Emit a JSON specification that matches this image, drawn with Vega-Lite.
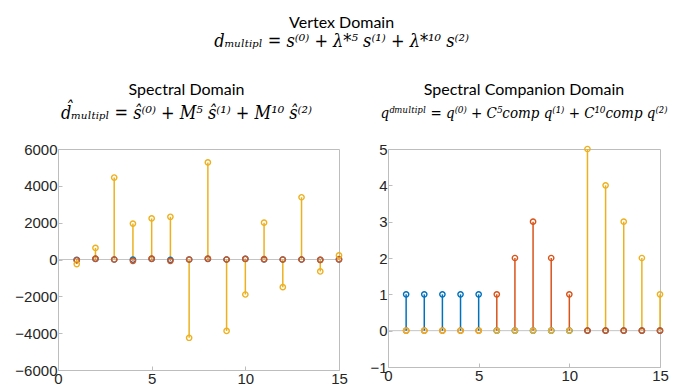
{
  "$schema": "https://vega.github.io/schema/vega-lite/v6.json",
  "padding": {"left": 14, "top": 14, "right": 5, "bottom": 0},
  "background": "white",
  "title": {
    "text": "Vertex Domain",
    "subtitle": "dₘᵤₗₜᵢₚₗ = s⁽⁰⁾ + λ*⁵ s⁽¹⁾ + λ*¹⁰ s⁽²⁾",
    "anchor": "middle",
    "font": "Lato",
    "fontSize": 16,
    "fontWeight": "normal",
    "color": "black",
    "subtitleFont": "DejaVu Serif Condensed, DejaVu Serif",
    "subtitleFontSize": 18,
    "subtitleFontStyle": "italic",
    "subtitleColor": "black",
    "subtitlePadding": 2,
    "offset": 31
  },
  "spacing": 21,
  "hconcat": [
    {
      "width": 281,
      "height": 221,
      "title": {
        "text": "Spectral Domain",
        "subtitle": "d̂ₘᵤₗₜᵢₚₗ = ŝ⁽⁰⁾ + M⁵ ŝ⁽¹⁾ + M¹⁰ ŝ⁽²⁾",
        "anchor": "middle",
        "dx": -12,
        "font": "Lato",
        "fontSize": 16,
        "fontWeight": "normal",
        "color": "black",
        "subtitleFont": "DejaVu Serif Condensed, DejaVu Serif",
        "subtitleFontSize": 18,
        "subtitleFontStyle": "italic",
        "subtitleColor": "black",
        "subtitlePadding": 7,
        "offset": 19
      },
      "data": {
        "values": [
          {"x": 1, "s": "s0", "v": -20}, {"x": 2, "s": "s0", "v": 30}, {"x": 3, "s": "s0", "v": 0},
          {"x": 4, "s": "s0", "v": -10}, {"x": 5, "s": "s0", "v": 30}, {"x": 6, "s": "s0", "v": -20},
          {"x": 7, "s": "s0", "v": 0}, {"x": 8, "s": "s0", "v": 30}, {"x": 9, "s": "s0", "v": 0},
          {"x": 10, "s": "s0", "v": 30}, {"x": 11, "s": "s0", "v": 0}, {"x": 12, "s": "s0", "v": 0},
          {"x": 13, "s": "s0", "v": 0}, {"x": 14, "s": "s0", "v": -20}, {"x": 15, "s": "s0", "v": 0},
          {"x": 1, "s": "s1", "v": -40}, {"x": 2, "s": "s1", "v": 50}, {"x": 3, "s": "s1", "v": 0},
          {"x": 4, "s": "s1", "v": -70}, {"x": 5, "s": "s1", "v": 50}, {"x": 6, "s": "s1", "v": -70},
          {"x": 7, "s": "s1", "v": 0}, {"x": 8, "s": "s1", "v": 50}, {"x": 9, "s": "s1", "v": 0},
          {"x": 10, "s": "s1", "v": 40}, {"x": 11, "s": "s1", "v": 20}, {"x": 12, "s": "s1", "v": 0},
          {"x": 13, "s": "s1", "v": 0}, {"x": 14, "s": "s1", "v": -20}, {"x": 15, "s": "s1", "v": 10},
          {"x": 1, "s": "s2", "v": -250}, {"x": 2, "s": "s2", "v": 630}, {"x": 3, "s": "s2", "v": 4450},
          {"x": 4, "s": "s2", "v": 1950}, {"x": 5, "s": "s2", "v": 2230}, {"x": 6, "s": "s2", "v": 2320},
          {"x": 7, "s": "s2", "v": -4250}, {"x": 8, "s": "s2", "v": 5270}, {"x": 9, "s": "s2", "v": -3880},
          {"x": 10, "s": "s2", "v": -1900}, {"x": 11, "s": "s2", "v": 2000}, {"x": 12, "s": "s2", "v": -1500},
          {"x": 13, "s": "s2", "v": 3380}, {"x": 14, "s": "s2", "v": -650}, {"x": 15, "s": "s2", "v": 220}
        ]
      },
      "layer": [
        {
          "data": {"values": [{"b": 0}]},
          "mark": {"type": "rule", "color": "#c4c4c4", "strokeWidth": 1},
          "encoding": {
            "y": {"field": "b", "type": "quantitative", "title": null, "scale": {"domain": [-6000, 6000], "nice": false},
                  "axis": {"values": [-6000, -4000, -2000, 0, 2000, 4000, 6000], "format": "d", "labelFontSize": 15, "labelFont": "Liberation Sans", "labelOverlap": false, "labelFlush": false, "labelPadding": 5}}
          }
        },
        {
          "mark": {"type": "rule", "strokeWidth": 1.5},
          "encoding": {
            "x": {"field": "x", "type": "quantitative", "title": null, "scale": {"domain": [0, 15], "nice": false},
                  "axis": {"values": [0, 5, 10, 15], "format": "d", "labelFontSize": 15, "labelFont": "Liberation Sans", "labelOverlap": false, "labelFlush": false, "labelPadding": 5}},
            "y": {"field": "v", "type": "quantitative", "title": null, "scale": {"domain": [-6000, 6000], "nice": false},
                  "axis": {"values": [-6000, -4000, -2000, 0, 2000, 4000, 6000], "format": "d", "labelFontSize": 15, "labelFont": "Liberation Sans", "labelOverlap": false, "labelFlush": false, "labelPadding": 5}},
            "y2": {"datum": 0},
            "color": {"field": "s", "type": "nominal", "legend": null, "scale": {"domain": ["s0", "s1", "s2"], "range": ["#0072BD", "#D95319", "#EDB120"]}}
          }
        },
        {
          "mark": {"type": "point", "filled": false, "shape": "circle", "size": 28, "strokeWidth": 1.4, "opacity": 1},
          "encoding": {
            "x": {"field": "x", "type": "quantitative", "title": null, "scale": {"domain": [0, 15], "nice": false},
                  "axis": {"values": [0, 5, 10, 15], "format": "d", "labelFontSize": 15, "labelFont": "Liberation Sans", "labelOverlap": false, "labelFlush": false, "labelPadding": 5}},
            "y": {"field": "v", "type": "quantitative", "title": null, "scale": {"domain": [-6000, 6000], "nice": false},
                  "axis": {"values": [-6000, -4000, -2000, 0, 2000, 4000, 6000], "format": "d", "labelFontSize": 15, "labelFont": "Liberation Sans", "labelOverlap": false, "labelFlush": false, "labelPadding": 5}},
            "color": {"field": "s", "type": "nominal", "legend": null}
          }
        }
      ]
    },
    {
      "width": 272,
      "height": 218,
      "title": {
        "text": "Spectral Companion Domain",
        "subtitle": "qᵈᵐᵘˡᵗⁱᵖˡ = q⁽⁰⁾ + C⁵comp q⁽¹⁾ + C¹⁰comp q⁽²⁾",
        "anchor": "middle",
        "font": "Lato",
        "fontSize": 16,
        "fontWeight": "normal",
        "color": "black",
        "subtitleFont": "DejaVu Serif Condensed, DejaVu Serif",
        "subtitleFontSize": 15,
        "subtitleFontStyle": "italic",
        "subtitleColor": "black",
        "subtitlePadding": 8,
        "offset": 21
      },
      "data": {
        "values": [
          {"x": 1, "s": "s0", "v": 1}, {"x": 2, "s": "s0", "v": 1}, {"x": 3, "s": "s0", "v": 1},
          {"x": 4, "s": "s0", "v": 1}, {"x": 5, "s": "s0", "v": 1}, {"x": 6, "s": "s0", "v": 0},
          {"x": 7, "s": "s0", "v": 0}, {"x": 8, "s": "s0", "v": 0}, {"x": 9, "s": "s0", "v": 0},
          {"x": 10, "s": "s0", "v": 0}, {"x": 11, "s": "s0", "v": 0}, {"x": 12, "s": "s0", "v": 0},
          {"x": 13, "s": "s0", "v": 0}, {"x": 14, "s": "s0", "v": 0}, {"x": 15, "s": "s0", "v": 0},
          {"x": 1, "s": "s1", "v": 0}, {"x": 2, "s": "s1", "v": 0}, {"x": 3, "s": "s1", "v": 0},
          {"x": 4, "s": "s1", "v": 0}, {"x": 5, "s": "s1", "v": 0}, {"x": 6, "s": "s1", "v": 1},
          {"x": 7, "s": "s1", "v": 2}, {"x": 8, "s": "s1", "v": 3}, {"x": 9, "s": "s1", "v": 2},
          {"x": 10, "s": "s1", "v": 1}, {"x": 11, "s": "s1", "v": 0}, {"x": 12, "s": "s1", "v": 0},
          {"x": 13, "s": "s1", "v": 0}, {"x": 14, "s": "s1", "v": 0}, {"x": 15, "s": "s1", "v": 0},
          {"x": 1, "s": "s2", "v": 0}, {"x": 2, "s": "s2", "v": 0}, {"x": 3, "s": "s2", "v": 0},
          {"x": 4, "s": "s2", "v": 0}, {"x": 5, "s": "s2", "v": 0}, {"x": 6, "s": "s2", "v": 0},
          {"x": 7, "s": "s2", "v": 0}, {"x": 8, "s": "s2", "v": 0}, {"x": 9, "s": "s2", "v": 0},
          {"x": 10, "s": "s2", "v": 0}, {"x": 11, "s": "s2", "v": 5}, {"x": 12, "s": "s2", "v": 4},
          {"x": 13, "s": "s2", "v": 3}, {"x": 14, "s": "s2", "v": 2}, {"x": 15, "s": "s2", "v": 1}
        ]
      },
      "layer": [
        {
          "data": {"values": [{"b": 0}]},
          "mark": {"type": "rule", "color": "#c4c4c4", "strokeWidth": 1},
          "encoding": {
            "y": {"field": "b", "type": "quantitative", "title": null, "scale": {"domain": [-1, 5], "nice": false},
                  "axis": {"values": [-1, 0, 1, 2, 3, 4, 5], "format": "d", "labelFontSize": 15, "labelFont": "Liberation Sans", "labelOverlap": false, "labelFlush": false, "labelPadding": 5}}
          }
        },
        {
          "mark": {"type": "rule", "strokeWidth": 1.5},
          "encoding": {
            "x": {"field": "x", "type": "quantitative", "title": null, "scale": {"domain": [0, 15], "nice": false},
                  "axis": {"values": [0, 5, 10, 15], "format": "d", "labelFontSize": 15, "labelFont": "Liberation Sans", "labelOverlap": false, "labelFlush": false, "labelPadding": 5}},
            "y": {"field": "v", "type": "quantitative", "title": null, "scale": {"domain": [-1, 5], "nice": false},
                  "axis": {"values": [-1, 0, 1, 2, 3, 4, 5], "format": "d", "labelFontSize": 15, "labelFont": "Liberation Sans", "labelOverlap": false, "labelFlush": false, "labelPadding": 5}},
            "y2": {"datum": 0},
            "color": {"field": "s", "type": "nominal", "legend": null, "scale": {"domain": ["s0", "s1", "s2"], "range": ["#0072BD", "#D95319", "#EDB120"]}}
          }
        },
        {
          "mark": {"type": "point", "filled": false, "shape": "circle", "size": 28, "strokeWidth": 1.4, "opacity": 1},
          "encoding": {
            "x": {"field": "x", "type": "quantitative", "title": null, "scale": {"domain": [0, 15], "nice": false},
                  "axis": {"values": [0, 5, 10, 15], "format": "d", "labelFontSize": 15, "labelFont": "Liberation Sans", "labelOverlap": false, "labelFlush": false, "labelPadding": 5}},
            "y": {"field": "v", "type": "quantitative", "title": null, "scale": {"domain": [-1, 5], "nice": false},
                  "axis": {"values": [-1, 0, 1, 2, 3, 4, 5], "format": "d", "labelFontSize": 15, "labelFont": "Liberation Sans", "labelOverlap": false, "labelFlush": false, "labelPadding": 5}},
            "color": {"field": "s", "type": "nominal", "legend": null}
          }
        }
      ]
    }
  ],
  "config": {
    "view": {"stroke": "#bdbdbd", "strokeWidth": 1},
    "axis": {
      "labelColor": "#262626",
      "domainColor": "#bdbdbd",
      "tickColor": "#bdbdbd",
      "tickSize": -4,
      "grid": false,
      "labelOverlap": false
    }
  }
}
